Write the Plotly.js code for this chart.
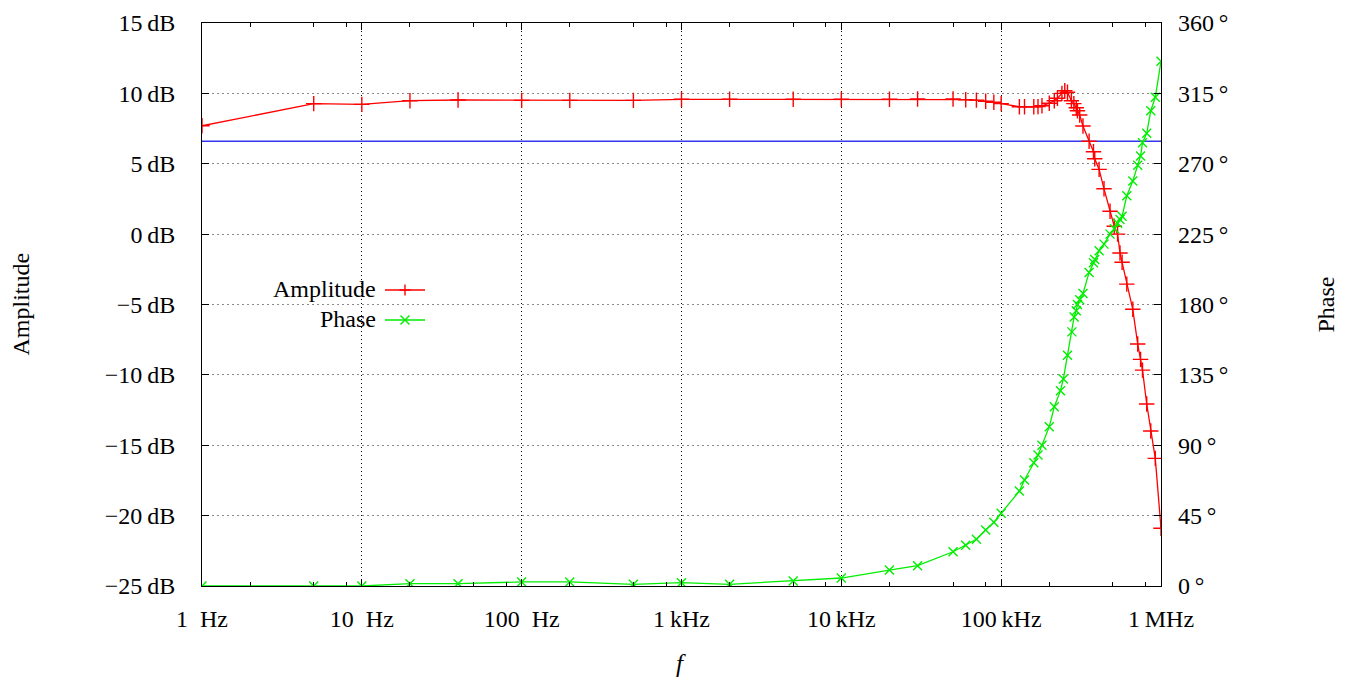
<!DOCTYPE html>
<html>
<head>
<meta charset="utf-8">
<script src="https://cdn.plot.ly/plotly-3.0.1.min.js"></script>
<style>html,body{margin:0;padding:0;background:#fff;}#chart{width:1346px;height:680px;}</style>
</head>
<body>
<div id="chart"></div>
<script>
// ---- data ----
const freqAmp = [1, 5, 10, 20, 40, 100, 200, 500, 1000, 2000, 5000, 10000, 20000, 30000, 50000,
  60000, 70000, 80000, 90000, 100000, 130000, 140000, 160000, 170000, 180000, 200000, 215000,
  225000, 240000, 250000, 260000, 275000, 285000, 295000, 300000, 310000, 325000, 355000,
  378000, 385000, 410000, 440000, 480000, 510000, 535000, 554000, 571000, 611000, 666000,
  715000, 745000, 766000, 814000, 863000, 921000, 1000000];
const ampDb = [7.7, 9.27, 9.22, 9.48, 9.53, 9.5, 9.5, 9.5, 9.58, 9.58, 9.58, 9.58, 9.58, 9.6, 9.6,
  9.55, 9.52, 9.44, 9.37, 9.27, 9.05, 9.05, 9.05, 9.06, 9.12, 9.3, 9.48,
  9.65, 10.0, 10.19, 10.08, 9.48, 9.27, 8.98, 8.77, 8.46, 7.68, 6.6,
  5.85, 5.35, 4.6, 3.22, 1.62, 0.56, 0.0, -1.34, -2.0, -3.55, -5.34,
  -7.81, -8.9, -9.66, -12.07, -13.99, -15.93, -20.9];

const freqPhase = [1, 5, 10, 20, 40, 100, 200, 500, 1000, 2000, 5000, 10000, 20000, 30000, 50000,
  60000, 70000, 80000, 90000, 100000, 130000, 140000, 160000, 170000, 180000, 200000, 215000,
  235000, 245000, 260000, 277000, 286000, 295000, 300000, 310000, 325000, 355000, 378000,
  385000, 410000, 440000, 480000, 511000, 535000, 554000, 571000, 611000, 666000, 715000,
  745000, 766000, 814000, 863000, 921000, 1000000];
const phaseDeg = [0, 0, 0, 1.5, 1.5, 2.6, 2.6, 1.1, 2.1, 1.1, 3.2, 5.1, 10.2, 13.0, 21.9,
  26, 29.9, 35.8, 40.7, 46.5, 60.7, 67.8, 78.8, 83.8, 90, 101.9, 114.6,
  124.9, 132.4, 147.5, 162.5, 172, 176, 180, 183, 187, 200.5, 206.7,
  208.8, 214.3, 218.6, 225, 228.5, 232, 234.4, 236.5, 249.5, 259, 269,
  275, 283.5, 289.5, 303.9, 312.5, 335.5];

const cutoffDb = 6.6;
const freqSpan = [1, 1000000];

const xTickVals = [1, 10, 100, 1000, 10000, 100000, 1000000];
const xTickText = ['1  Hz', '10  Hz', '100  Hz', '1\u2009kHz', '10\u2009kHz', '100\u2009kHz', '1\u2009MHz'];
const dbTickVals = [15, 10, 5, 0, -5, -10, -15, -20, -25];
const dbTickText = ['15\u2009dB', '10\u2009dB', '5\u2009dB', '0\u2009dB', '\u22125\u2009dB', '\u221210\u2009dB', '\u221215\u2009dB', '\u221220\u2009dB', '\u221225\u2009dB'];
const degTickVals = [0, 45, 90, 135, 180, 225, 270, 315, 360];
const degTickText = ['0\u2009\u00b0', '45\u2009\u00b0', '90\u2009\u00b0', '135\u2009\u00b0', '180\u2009\u00b0', '225\u2009\u00b0', '270\u2009\u00b0', '315\u2009\u00b0', '360\u2009\u00b0'];

// ---- layout helpers ----
const W = 1346, H = 680;
const L = 202, R = 1161, T = 23, B = 586;
const px = x => (x - L) / (R - L);
const py = y => (B - y) / (B - T);

const minorVals = [];
for (let d = 1; d < 1e6; d *= 10) { [2, 5, 8].forEach(m => minorVals.push(d * m)); }

const FONT = 'Liberation Serif, Times New Roman, serif';
const FS = 24;
const RED = '#ff0000', GREEN = '#00ee00', BLUE = '#3535f0';

const traces = [
  { x: freqSpan, y: [cutoffDb, cutoffDb], type: 'scatter', mode: 'lines',
    line: { color: BLUE, width: 1.3 }, showlegend: false, hoverinfo: 'skip' },
  { x: freqPhase, y: phaseDeg, yaxis: 'y2', type: 'scatter', mode: 'lines+markers', name: 'Phase',
    line: { color: GREEN, width: 1.3 },
    marker: { symbol: 'x-thin', size: 9, color: GREEN, line: { color: GREEN, width: 1.4 } },
    showlegend: false },
  { x: freqAmp, y: ampDb, type: 'scatter', mode: 'lines+markers', name: 'Amplitude',
    line: { color: RED, width: 1.3 },
    marker: { symbol: 'cross-thin', size: 11, color: RED, line: { color: RED, width: 1.4 } },
    showlegend: false }
];

const lx0 = 385, lx1 = 425, lmx = 405;
const shapes = [
  { type: 'rect', xref: 'paper', yref: 'paper', x0: px(222), x1: px(440), y0: py(336), y1: py(272),
    fillcolor: '#ffffff', line: { width: 0 }, layer: 'between' },
  { type: 'line', xref: 'paper', yref: 'paper', x0: px(lx0), x1: px(lx1), y0: py(290), y1: py(290), line: { color: RED, width: 1.3 } },
  { type: 'line', xref: 'paper', yref: 'paper', x0: px(lmx - 5.5), x1: px(lmx + 5.5), y0: py(290), y1: py(290), line: { color: RED, width: 1.4 } },
  { type: 'line', xref: 'paper', yref: 'paper', x0: px(lmx), x1: px(lmx), y0: py(284.5), y1: py(295.5), line: { color: RED, width: 1.4 } },
  { type: 'line', xref: 'paper', yref: 'paper', x0: px(lx0), x1: px(lx1), y0: py(320), y1: py(320), line: { color: GREEN, width: 1.3 } },
  { type: 'line', xref: 'paper', yref: 'paper', x0: px(lmx - 4.5), x1: px(lmx + 4.5), y0: py(315.5), y1: py(324.5), line: { color: GREEN, width: 1.4 } },
  { type: 'line', xref: 'paper', yref: 'paper', x0: px(lmx - 4.5), x1: px(lmx + 4.5), y0: py(324.5), y1: py(315.5), line: { color: GREEN, width: 1.4 } }
];

const annotations = [
  { text: 'Amplitude', xref: 'paper', yref: 'paper', x: px(378), y: py(289), xanchor: 'right', yanchor: 'middle', showarrow: false, font: { family: FONT, size: FS, color: '#000' } },
  { text: 'Phase', xref: 'paper', yref: 'paper', x: px(378), y: py(319), xanchor: 'right', yanchor: 'middle', showarrow: false, font: { family: FONT, size: FS, color: '#000' } },
  { text: 'Amplitude', xref: 'paper', yref: 'paper', x: px(20), y: 0.5, xanchor: 'center', yanchor: 'middle', textangle: -90, showarrow: false, font: { family: FONT, size: FS, color: '#000' } },
  { text: 'Phase', xref: 'paper', yref: 'paper', x: px(1325), y: 0.5, xanchor: 'center', yanchor: 'middle', textangle: -90, showarrow: false, font: { family: FONT, size: FS, color: '#000' } },
  { text: '<i>f</i>', xref: 'paper', yref: 'paper', x: px(681), y: py(664), xanchor: 'center', yanchor: 'middle', showarrow: false, font: { family: FONT, size: FS + 1, color: '#000' } }
];

const layout = {
  width: W, height: H,
  margin: { l: L, r: W - R, t: T, b: H - B, pad: 0 },
  paper_bgcolor: '#fff', plot_bgcolor: '#fff',
  showlegend: false,
  font: { family: FONT, size: FS, color: '#000' },
  xaxis: {
    type: 'log', range: [0, 6], autorange: false,
    tickmode: 'array', tickvals: xTickVals, ticktext: xTickText,
    ticks: 'inside', ticklen: 7, tickwidth: 1, tickcolor: '#000',
    showline: true, linecolor: '#000', linewidth: 1, mirror: 'ticks',
    showgrid: true, gridcolor: '#000', gridwidth: 1, griddash: '1px,3px',
    zeroline: false, ticklabelstandoff: 11,
    minor: { tickmode: 'array', tickvals: minorVals, ticks: 'inside', ticklen: 4, tickcolor: '#000', tickwidth: 1, showgrid: false },
    tickfont: { family: FONT, size: FS, color: '#000' }
  },
  yaxis: {
    range: [-25, 15], autorange: false,
    tickmode: 'array', tickvals: dbTickVals, ticktext: dbTickText,
    ticks: 'inside', ticklen: 7, tickwidth: 1, tickcolor: '#000',
    showline: true, linecolor: '#000', linewidth: 1, mirror: true,
    showgrid: true, gridcolor: '#8a8a8a', gridwidth: 1, griddash: '2px,3px',
    zeroline: false, ticklabelstandoff: 21,
    tickfont: { family: FONT, size: FS, color: '#000' }
  },
  yaxis2: {
    overlaying: 'y', side: 'right',
    range: [0, 360], autorange: false,
    tickmode: 'array', tickvals: degTickVals, ticktext: degTickText,
    ticks: 'inside', ticklen: 7, tickwidth: 1, tickcolor: '#000',
    showline: false, showgrid: false, zeroline: false, ticklabelstandoff: 16,
    tickfont: { family: FONT, size: FS, color: '#000' }
  },
  shapes: shapes,
  annotations: annotations
};

Plotly.newPlot('chart', traces, layout, { staticPlot: true, displayModeBar: false });
</script>
</body>
</html>
